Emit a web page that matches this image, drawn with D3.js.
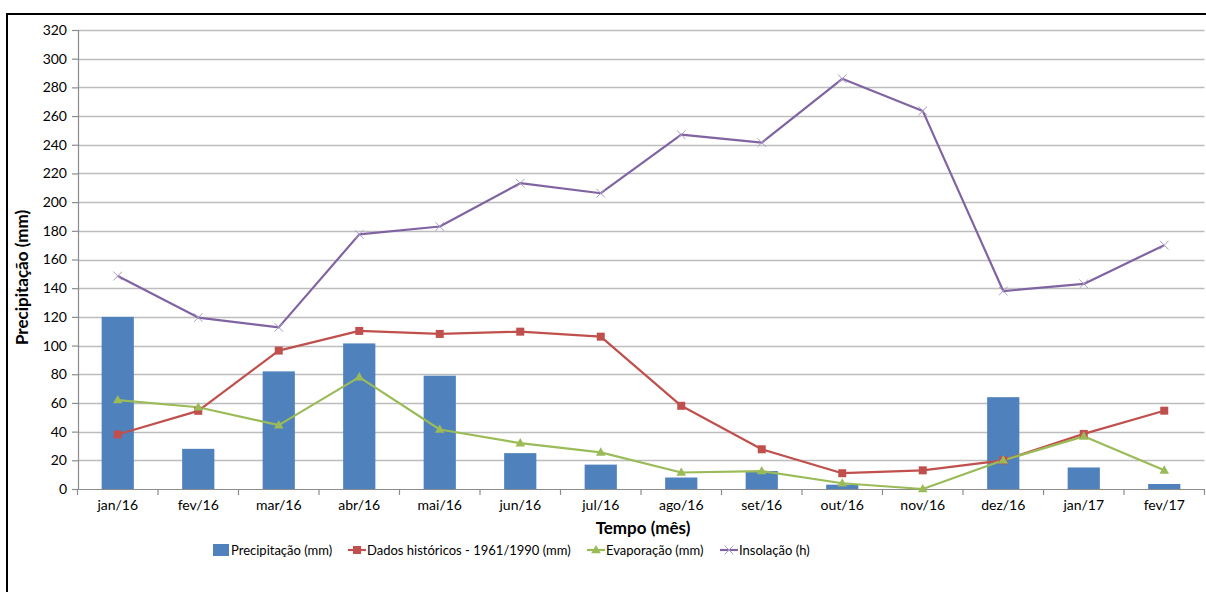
<!DOCTYPE html>
<html>
<head>
<meta charset="utf-8">
<script src="https://cdn.jsdelivr.net/npm/d3@7"></script>
<style>
  html, body { margin: 0; padding: 0; background: #fff; }
  svg { display: block; }
  text { font-family: Lato, "Open Sans", sans-serif; fill: #000; }
</style>
</head>
<body>
<script>
const categories = ["jan/16","fev/16","mar/16","abr/16","mai/16","jun/16","jul/16","ago/16","set/16","out/16","nov/16","dez/16","jan/17","fev/17"];
const precipitacao = [120, 28, 82, 101.5, 79, 25, 17, 8, 12.5, 3, 0, 64, 15, 3.5];
const historicos = [38, 54.5, 96.5, 110.2, 108.1, 109.7, 106.2, 58, 27.7, 11, 13, 20, 38.4, 54.6];
const evaporacao = [62, 57, 44.5, 78, 41.5, 32, 25.5, 11.5, 12.5, 4, 0, 20, 36.7, 13];
const insolacao = [148.5, 119.5, 112.7, 177.5, 183, 213.2, 206.2, 247, 241.5, 286, 263.6, 138, 143, 170];
const yTicks = [0,20,40,60,80,100,120,140,160,180,200,220,240,260,280,300,320];
const yTitle = "Precipitação (mm)";
const xTitle = "Tempo (mês)";
const legendLabels = ["Precipitação (mm)", "Dados históricos - 1961/1990 (mm)", "Evaporação (mm)", "Insolação (h)"];

const W = 1206, H = 592;
const colors = { bar: "#4F81BD", red: "#C0504D", green: "#9BBB59", purple: "#8064A2" };

const svg = d3.select("body").append("svg").attr("width", W).attr("height", H);

// outer frame (top and left edges visible)
svg.append("line").attr("x1", 7).attr("x2", W).attr("y1", 14).attr("y2", 14).attr("stroke", "#000").attr("stroke-width", 2);
svg.append("line").attr("x1", 7).attr("x2", 7).attr("y1", 13).attr("y2", H).attr("stroke", "#000").attr("stroke-width", 2);

const x = d3.scaleBand().domain(categories).range([77.5, 1204.5]).paddingInner(0).paddingOuter(0);
const y = d3.scaleLinear().domain([0, 320]).range([489, 30]);

// gridlines
svg.append("g").selectAll("line").data(yTicks.filter(d => d > 0)).join("line")
  .attr("x1", 78).attr("x2", 1204.5)
  .attr("y1", d => Math.round(y(d)) + 0.5).attr("y2", d => Math.round(y(d)) + 0.5)
  .attr("stroke", "#bdbdbd").attr("stroke-width", 1.4);

// bars
const bw = x.bandwidth() * 0.4;
svg.append("g").selectAll("rect").data(categories).join("rect")
  .attr("x", (d) => x(d) + x.bandwidth() / 2 - bw / 2)
  .attr("width", bw)
  .attr("y", (d, i) => y(precipitacao[i]))
  .attr("height", (d, i) => y(0) - y(precipitacao[i]))
  .attr("fill", colors.bar);

// axes
const yAxis = d3.axisLeft(y).tickValues(yTicks).tickSize(6).tickPadding(5);
const gy = svg.append("g").attr("transform", "translate(78,0)").call(yAxis);
gy.select(".domain").attr("stroke", "#8c8c8c").attr("stroke-width", 1.2);
gy.selectAll(".tick line").attr("stroke", "#8c8c8c").attr("stroke-width", 1.2);
gy.selectAll("text").attr("font-size", 14).attr("font-family", "Lato, sans-serif").attr("fill", "#1a1a1a");

const xAxis = d3.axisBottom(x).tickSize(0).tickPadding(11);
const gx = svg.append("g").attr("transform", "translate(0,489)").call(xAxis);
gx.select(".domain").attr("stroke", "#8c8c8c").attr("stroke-width", 1.2).attr("d", "M78,0.5H1204.5");
gx.selectAll("text").attr("font-size", 14).attr("font-family", "Lato, sans-serif").attr("fill", "#1a1a1a");
// category boundary ticks
gx.append("g").selectAll("line").data(categories.concat(["__end"])).join("line")
  .attr("x1", (d, i) => i < categories.length ? x(d) : x(categories[categories.length - 1]) + x.bandwidth())
  .attr("x2", (d, i) => i < categories.length ? x(d) : x(categories[categories.length - 1]) + x.bandwidth())
  .attr("y1", 0).attr("y2", 6)
  .attr("stroke", "#8c8c8c").attr("stroke-width", 1.2);

// lines
const cx = d => x(d) + x.bandwidth() / 2;
function drawLine(vals, color) {
  const line = d3.line().x((d, i) => cx(categories[i])).y(d => y(d));
  svg.append("path").datum(vals).attr("d", line).attr("fill", "none")
    .attr("stroke", color).attr("stroke-width", 2.2).attr("stroke-linejoin", "round");
}
drawLine(historicos, colors.red);
drawLine(evaporacao, colors.green);
drawLine(insolacao, colors.purple);

// markers
svg.append("g").selectAll("rect").data(historicos).join("rect")
  .attr("x", (d, i) => cx(categories[i]) - 4).attr("y", d => y(d) - 4)
  .attr("width", 8).attr("height", 8).attr("fill", colors.red);
const tri = d3.symbol().type(d3.symbolTriangle).size(40);
svg.append("g").selectAll("path").data(evaporacao).join("path")
  .attr("d", tri)
  .attr("transform", (d, i) => `translate(${cx(categories[i])},${y(d) + 0.5})`)
  .attr("fill", colors.green);
const xs = d3.symbol().type(d3.symbolX).size(50);
svg.append("g").selectAll("path").data(insolacao).join("path")
  .attr("d", xs)
  .attr("transform", (d, i) => `translate(${cx(categories[i])},${y(d)})`)
  .attr("fill", "none").attr("stroke", "#a999c6").attr("stroke-width", 1);

// axis titles
svg.append("text").attr("transform", `translate(21,${(30 + 489) / 2 + 18}) rotate(-90)`)
  .attr("text-anchor", "middle").attr("dominant-baseline", "central")
  .attr("font-size", 17).attr("font-weight", "bold").text(yTitle);
svg.append("text").attr("x", 643).attr("y", 527)
  .attr("text-anchor", "middle").attr("dominant-baseline", "central")
  .attr("font-size", 17).attr("font-weight", "bold").text(xTitle);

// legend
const legendY = 550;
const lg = svg.append("g");
const items = [
  { type: "bar", color: colors.bar, x: 213 },
  { type: "square", color: colors.red, x: 348 },
  { type: "tri", color: colors.green, x: 587 },
  { type: "x", color: colors.purple, x: 720 }
];
items.forEach((it, i) => {
  const g = lg.append("g").attr("transform", `translate(${it.x},${legendY})`);
  let tx;
  if (it.type === "bar") {
    g.append("rect").attr("x", 0).attr("y", -6).attr("width", 16).attr("height", 12).attr("fill", it.color);
    tx = 18;
  } else {
    g.append("line").attr("x1", 0).attr("x2", 18).attr("y1", 0).attr("y2", 0).attr("stroke", it.color).attr("stroke-width", 2.2);
    if (it.type === "square") g.append("rect").attr("x", 5).attr("y", -4).attr("width", 8).attr("height", 8).attr("fill", it.color);
    if (it.type === "tri") g.append("path").attr("d", tri).attr("transform", "translate(9,0.5)").attr("fill", it.color);
    if (it.type === "x") g.append("path").attr("d", xs).attr("transform", "translate(9,0)").attr("stroke", "#a999c6").attr("fill", "none");
    tx = 19;
  }
  g.append("text").attr("x", tx).attr("y", 0).attr("dominant-baseline", "central")
    .attr("font-size", 13).attr("fill", "#1a1a1a").text(legendLabels[i]);
});
</script>
</body>
</html>
